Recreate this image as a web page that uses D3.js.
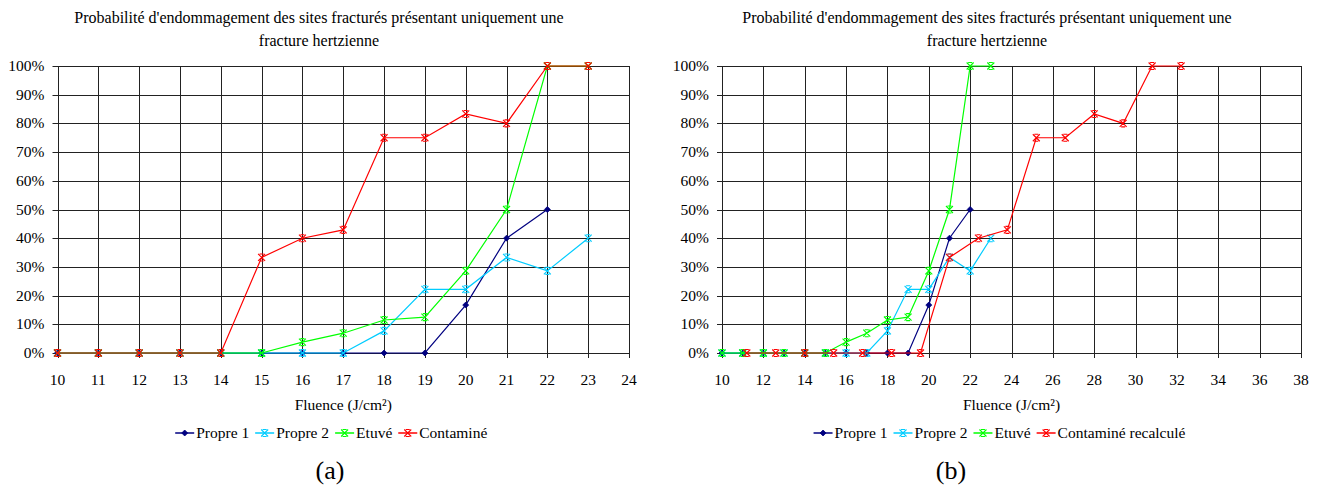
<!DOCTYPE html>
<html>
<head>
<meta charset="utf-8">
<script src="https://cdn.jsdelivr.net/npm/d3@7"></script>
<style>
  body { margin: 0; background: #fff; }
  svg { display: block; }
  text { font-family: "Liberation Serif", "Times New Roman", Times, serif; fill: #000; }
</style>
</head>
<body>
<svg id="chart" width="1320" height="491"></svg>
<script>
// data
var titleLines = ["Probabilité d'endommagement des sites fracturés présentant uniquement une", "fracture hertzienne"];
var xTitle = "Fluence (J/cm²)";
var yTicks = [0, 10, 20, 30, 40, 50, 60, 70, 80, 90, 100];

var fluence = [10, 11, 12, 13, 14, 15, 16, 17, 18, 19, 20, 21, 22, 23];
var propre1 = [0, 0, 0, 0, 0, 0, 0, 0, 0, 0, 16.7, 40, 50];
var propre2 = [0, 0, 0, 0, 0, 0, 0, 0, 7.7, 22.2, 22.2, 33.3, 28.6, 40];
var etuve = [0, 0, 0, 0, 0, 0, 3.8, 6.9, 11.5, 12.5, 28.6, 50, 100, 100];
var contamine = [0, 0, 0, 0, 0, 33.3, 40, 42.9, 75, 75, 83.3, 80, 100, 100];

var fluenceRecalc = [11.2, 12.6, 14, 15.4, 16.8, 18.2, 19.6, 21, 22.4, 23.8, 25.2, 26.6, 28, 29.4, 30.8, 32.2];
var contamineRecalc = [0, 0, 0, 0, 0, 0, 0, 33.3, 40, 42.9, 75, 75, 83.3, 80, 100, 100];

var xTicksA = d3.range(10, 25, 1);
var xTicksB = d3.range(10, 39, 2);

var colors = { p1: "#000080", p2: "#00ccff", et: "#00ff00", ct: "#ff0000" };
var fs = "15.5px";

var svg = d3.select("#chart");

function zip(xs, ys) {
  return ys.map(function(v, i) { return { x: xs[i], y: v }; });
}

function drawPanel(o) {
  var g = svg.append("g");
  var x = d3.scaleLinear().domain([o.ticks[0], o.ticks[o.ticks.length - 1]]).range([o.left, o.right]);
  var y = d3.scaleLinear().domain([0, 100]).range([353, 66]);

  // title
  g.selectAll(".title")
    .data(titleLines)
    .enter()
    .append("text")
    .attr("x", o.titleX)
    .attr("y", function(d, i) { return 23 + i * 23; })
    .attr("text-anchor", "middle")
    .style("font-size", "16px")
    .text(function(d) { return d; });

  // grid
  g.append("g")
    .selectAll("line")
    .data(yTicks)
    .enter()
    .append("line")
    .attr("x1", o.left - 5)
    .attr("x2", o.right)
    .attr("y1", function(d) { return Math.round(y(d)) + 0.5; })
    .attr("y2", function(d) { return Math.round(y(d)) + 0.5; })
    .attr("stroke", "#222")
    .attr("stroke-width", 1);

  g.append("g")
    .selectAll("line")
    .data(o.ticks)
    .enter()
    .append("line")
    .attr("x1", function(d) { return Math.round(x(d)) + 0.5; })
    .attr("x2", function(d) { return Math.round(x(d)) + 0.5; })
    .attr("y1", y(100))
    .attr("y2", y(0) + 5)
    .attr("stroke", "#222")
    .attr("stroke-width", 1);

  // y labels
  g.selectAll(".ylab")
    .data(yTicks)
    .enter()
    .append("text")
    .attr("x", o.left - 13)
    .attr("y", function(d) { return y(d) + 5; })
    .attr("text-anchor", "end")
    .style("font-size", fs)
    .text(function(d) { return d + "%"; });

  // x labels
  g.selectAll(".xlab")
    .data(o.ticks)
    .enter()
    .append("text")
    .attr("x", function(d) { return x(d); })
    .attr("y", 385)
    .attr("text-anchor", "middle")
    .style("font-size", fs)
    .text(function(d) { return d; });

  var cx = (o.left + o.right) / 2;
  g.append("text")
    .attr("x", cx)
    .attr("y", 410)
    .attr("text-anchor", "middle")
    .style("font-size", fs)
    .text(xTitle);

  var line = d3.line().x(function(d) { return x(d.x); }).y(function(d) { return y(d.y); });

  o.series.forEach(function(s) {
    var pts = zip(s.xs, s.ys);
    g.append("path")
      .datum(pts)
      .attr("d", line)
      .attr("fill", "none")
      .attr("stroke", s.color)
      .attr("stroke-width", 1.2);
    drawMarkers(g, pts.map(function(p) { return [x(p.x), y(p.y)]; }), s);
  });

  // legend
  var lg = g.append("g");
  var pos = 0;
  var items = [];
  o.series.forEach(function(s) {
    var it = lg.append("g");
    it.append("line")
      .attr("x1", 0).attr("x2", 19)
      .attr("y1", 0).attr("y2", 0)
      .attr("stroke", s.color)
      .attr("stroke-width", 1.5);
    drawMarkers(it, [[9.5, 0]], s);
    var t = it.append("text")
      .attr("x", 21)
      .attr("y", 5)
      .style("font-size", fs)
      .text(s.name);
    var w = 21 + t.node().getComputedTextLength();
    items.push({ g: it, off: pos });
    pos += w + 6;
  });
  var total = pos - 6;
  var start = cx - 12 - total / 2;
  items.forEach(function(d) {
    d.g.attr("transform", "translate(" + (start + d.off) + ",433)");
  });

  g.append("text")
    .attr("x", o.labelX)
    .attr("y", 479)
    .attr("text-anchor", "middle")
    .style("font-size", "26px")
    .text(o.label);
}

function drawMarkers(g, pts, s) {
  if (s.marker === "diamond") {
    g.selectAll(null)
      .data(pts)
      .enter()
      .append("path")
      .attr("d", "M0,-3L3,0L0,3L-3,0Z")
      .attr("transform", function(d) { return "translate(" + d[0] + "," + d[1] + ")"; })
      .attr("fill", s.color)
      .attr("stroke", s.color)
      .attr("stroke-width", 0.8);
  } else {
    g.selectAll(null)
      .data(pts)
      .enter()
      .append("path")
      .attr("d", "M-3.5,-3.5L3.5,3.5M-3.5,3.5L3.5,-3.5M-2,-3.5L2,-3.5M-2,3.5L2,3.5")
      .attr("transform", function(d) { return "translate(" + d[0] + "," + d[1] + ")"; })
      .attr("fill", "none")
      .attr("stroke", s.color)
      .attr("stroke-width", 1.1);
  }
}

drawPanel({
  left: 57.5, right: 629, ticks: xTicksA, titleX: 319, labelX: 330, label: "(a)",
  series: [
    { name: "Propre 1", xs: fluence, ys: propre1, color: colors.p1, marker: "diamond" },
    { name: "Propre 2", xs: fluence, ys: propre2, color: colors.p2, marker: "star" },
    { name: "Etuvé", xs: fluence, ys: etuve, color: colors.et, marker: "star" },
    { name: "Contaminé", xs: fluence, ys: contamine, color: colors.ct, marker: "star" }
  ]
});

drawPanel({
  left: 722, right: 1301, ticks: xTicksB, titleX: 987, labelX: 951, label: "(b)",
  series: [
    { name: "Propre 1", xs: fluence, ys: propre1, color: colors.p1, marker: "diamond" },
    { name: "Propre 2", xs: fluence, ys: propre2, color: colors.p2, marker: "star" },
    { name: "Etuvé", xs: fluence, ys: etuve, color: colors.et, marker: "star" },
    { name: "Contaminé recalculé", xs: fluenceRecalc, ys: contamineRecalc, color: colors.ct, marker: "star" }
  ]
});
</script>
</body>
</html>
